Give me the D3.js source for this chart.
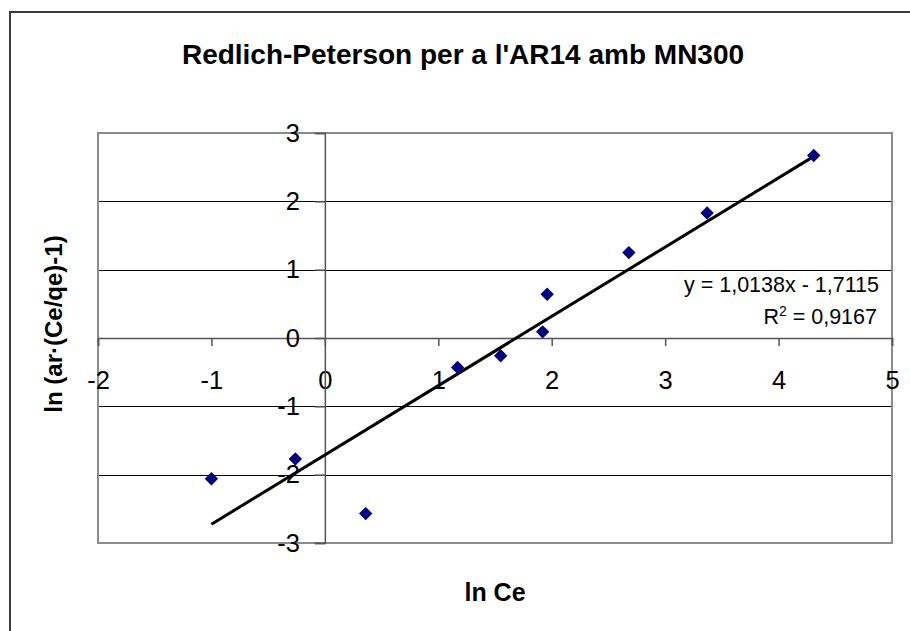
<!DOCTYPE html>
<html>
<head>
<meta charset="utf-8">
<script src="https://cdn.jsdelivr.net/npm/d3@7"></script>
<style>
  html, body { margin: 0; padding: 0; background: #fff; }
  svg { display: block; font-family: "Liberation Sans", Arial, sans-serif; }
</style>
</head>
<body>
<svg id="chart" width="910" height="631"></svg>
<script>
// ---- data ----
const lnCe = [-1.00, -0.26, 0.36, 1.17, 1.55, 1.92, 1.96, 2.68, 3.37, 4.31];
const lnY  = [-2.06, -1.77, -2.57, -0.43, -0.26, 0.09, 0.64, 1.25, 1.83, 2.67];
const xTicks = [-2, -1, 0, 1, 2, 3, 4, 5];
const yTicks = [-3, -2, -1, 0, 1, 2, 3];
const slope = 1.0138;
const intercept = -1.7115;
const eqText = "y = 1,0138x - 1,7115";
const r2Value = "0,9167";
const title = "Redlich-Peterson per a l'AR14 amb MN300";
const xTitle = "ln Ce";
const yTitle = "ln (ar·(Ce/qe)-1)";

// ---- layout ----
const svg = d3.select("#chart");
const L = 98, R = 892, T = 133, B = 543;
const x = d3.scaleLinear().domain([-2, 5]).range([L, R]);
const y = d3.scaleLinear().domain([-3, 3]).range([B, T]);

// outer chart border
svg.append("rect").attr("x", 10).attr("y", 12).attr("width", 1000).attr("height", 700)
  .attr("fill", "#fff").attr("stroke", "#3a3a3a").attr("stroke-width", 2);

// title
svg.append("text").attr("x", 463).attr("y", 64).attr("text-anchor", "middle")
  .attr("font-size", 28).attr("font-weight", "bold").attr("fill", "#000")
  .text(title);

// gridlines
svg.append("g").selectAll("line").data(yTicks.filter(d => d !== 0 && d !== 3 && d !== -3)).join("line")
  .attr("x1", L).attr("x2", R)
  .attr("y1", d => Math.round(y(d)) + 0.5).attr("y2", d => Math.round(y(d)) + 0.5)
  .attr("stroke", "#000").attr("stroke-width", 1);

// plot border
svg.append("rect").attr("x", L).attr("y", T).attr("width", R - L).attr("height", B - T)
  .attr("fill", "none").attr("stroke", "#8c8c8c").attr("stroke-width", 2);

const fmt = d => d3.format("d")(d).replace("−", "-");

// x axis (at y=0)
const gx = svg.append("g").attr("transform", `translate(0,${y(0)})`)
  .call(d3.axisBottom(x).tickValues(xTicks).tickSize(8).tickSizeOuter(8).tickPadding(25).tickFormat(fmt));
gx.selectAll("path, line").attr("stroke", "#555").attr("stroke-width", 1.5);
gx.selectAll("text").attr("font-size", 25.5).attr("fill", "#000").attr("font-family", "Liberation Sans, Arial, sans-serif");

// y axis (at x=0)
const gy = svg.append("g").attr("transform", `translate(${x(0)},0)`)
  .call(d3.axisLeft(y).tickValues(yTicks).tickSize(10).tickSizeOuter(10).tickPadding(15).tickFormat(fmt));
gy.selectAll("path, line").attr("stroke", "#555").attr("stroke-width", 1.5);
gy.selectAll("text").attr("font-size", 25.5).attr("fill", "#000").attr("font-family", "Liberation Sans, Arial, sans-serif");

// trendline
const xMin = d3.min(lnCe), xMax = d3.max(lnCe);
svg.append("line")
  .attr("x1", x(xMin)).attr("y1", y(slope * xMin + intercept))
  .attr("x2", x(xMax)).attr("y2", y(slope * xMax + intercept))
  .attr("stroke", "#000").attr("stroke-width", 3);

// points
const sym = d3.symbol().type(d3.symbolSquare).size(90);
svg.append("g").selectAll("path").data(lnCe.map((v, i) => [v, lnY[i]])).join("path")
  .attr("d", sym)
  .attr("transform", d => `translate(${x(d[0])},${y(d[1])}) rotate(45)`)
  .attr("fill", "#000080");

// equation
svg.append("text").attr("x", 879).attr("y", 292).attr("text-anchor", "end")
  .attr("font-size", 21.5).attr("fill", "#000").text(eqText);
const r2 = svg.append("text").attr("x", 877).attr("y", 324).attr("text-anchor", "end")
  .attr("font-size", 21.5).attr("fill", "#000");
r2.append("tspan").text("R");
r2.append("tspan").attr("dy", -8).attr("font-size", 14).text("2");
r2.append("tspan").attr("dy", 8).text(" = " + r2Value);

// axis titles
svg.append("text").attr("x", 495).attr("y", 601).attr("text-anchor", "middle")
  .attr("font-size", 25).attr("font-weight", "bold").attr("fill", "#000").text(xTitle);
svg.append("text").attr("transform", "translate(62,324) rotate(-90)").attr("text-anchor", "middle")
  .attr("font-size", 24).attr("font-weight", "bold").attr("fill", "#000").text(yTitle);
</script>
</body>
</html>
